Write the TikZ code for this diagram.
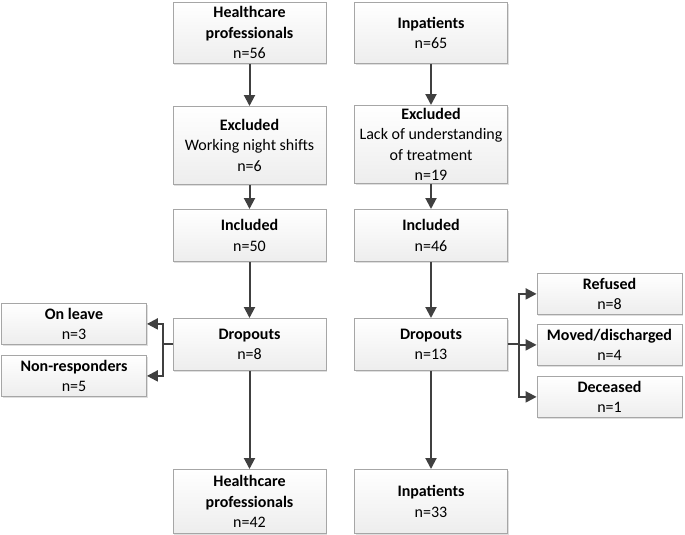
\documentclass[tikz,border=0pt]{standalone}
\usepackage{fontspec}
\setmainfont{Carlito}
\usetikzlibrary{arrows.meta,positioning,shadows}
\definecolor{arrowgray}{HTML}{404040}
\definecolor{boxline}{HTML}{A6A6A6}

\begin{document}
\begin{tikzpicture}[x=1pt, y=-1pt,
    box/.style={draw=boxline, line width=0.8pt, top color=white, bottom color=gray!14,
        drop shadow={shadow xshift=1.2pt, shadow yshift=-1.2pt, opacity=0.25},
        align=center, font=\fontsize{16}{20.5}\selectfont, inner sep=0pt,
        anchor=north, minimum width=153pt},
    side/.style={box, minimum width=145pt, minimum height=41pt},
    flow/.style={draw=arrowgray, line width=2pt, -{Triangle[length=11pt, width=11pt]}}]
    \useasboundingbox (0,0) rectangle (685,535);

    % healthcare professionals
    \node[box, minimum height=61pt] (hp) at (249.5,2) {\textbf{Healthcare}\\\textbf{professionals}\\n=56};
    \node[box, minimum height=78pt] (exclHP) at (249.5,106) {\textbf{Excluded}\\Working night shifts\\n=6};
    \node[box, minimum height=52pt] (inclHP) at (249.5,209) {\textbf{Included}\\n=50};
    \node[box, minimum height=52pt] (dropHP) at (249.5,318) {\textbf{Dropouts}\\n=8};
    \node[box, minimum height=64pt] (endHP) at (249.5,469) {\textbf{Healthcare}\\\textbf{professionals}\\n=42};

    % inpatients
    \node[box, minimum height=61pt] (inp) at (431,2) {\textbf{Inpatients}\\n=65};
    \node[box, minimum height=78pt] (exclIn) at (431,105) {\textbf{Excluded}\\Lack of understanding\\of treatment\\n=19};
    \node[box, minimum height=52pt] (inclIn) at (431,209) {\textbf{Included}\\n=46};
    \node[box, minimum height=52pt] (dropIn) at (431,318) {\textbf{Dropouts}\\n=13};
    \node[box, minimum height=64pt] (endIn) at (431,469) {\textbf{Inpatients}\\n=33};

    % dropout reasons
    \node[side] (leave) at (74,303) {\textbf{On leave}\\n=3};
    \node[side] (nonresp) at (74,355) {\textbf{Non-responders}\\n=5};
    \node[side] (refused) at (609.5,273) {\textbf{Refused}\\n=8};
    \node[side] (moved) at (609.5,324) {\textbf{Moved/discharged}\\n=4};
    \node[side] (deceased) at (609.5,376) {\textbf{Deceased}\\n=1};

    \draw[flow] (hp) -- (exclHP);
    \draw[flow] (exclHP) -- (inclHP);
    \draw[flow] (inclHP) -- (dropHP);
    \draw[flow] (dropHP) -- (endHP);
    \draw[flow] (inp) -- (exclIn);
    \draw[flow] (exclIn) -- (inclIn);
    \draw[flow] (inclIn) -- (dropIn);
    \draw[flow] (dropIn) -- (endIn);

    \draw[flow] (dropHP.west) -- ++(-10,0) |- (leave);
    \draw[flow] (dropHP.west) -- ++(-10,0) |- (nonresp);
    \draw[flow] (dropIn.east) -- ++(11,0) |- (refused);
    \draw[flow] (dropIn.east) -- ++(11,0) |- (moved);
    \draw[flow] (dropIn.east) -- ++(11,0) |- (deceased);
\end{tikzpicture}
\end{document}
